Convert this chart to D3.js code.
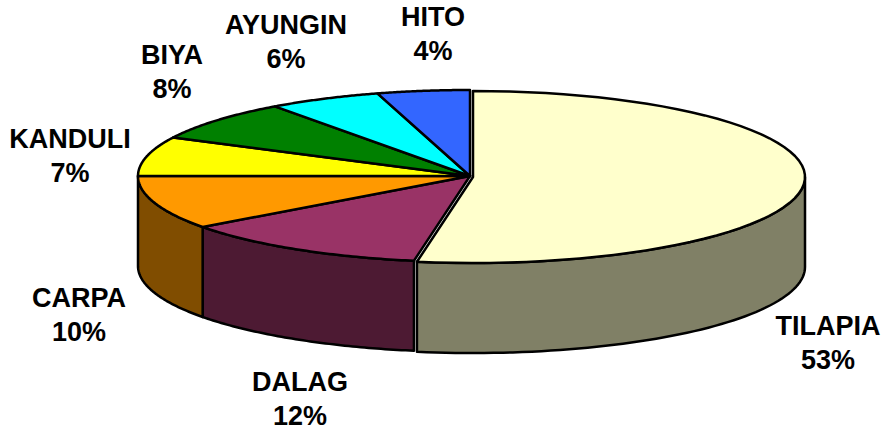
<!DOCTYPE html>
<html>
<head>
<meta charset="utf-8">
<script src="https://cdn.jsdelivr.net/npm/d3@7"></script>
<style>
  html, body { margin: 0; padding: 0; background: #fff; }
  text { font-family: "Liberation Sans", Arial, sans-serif; font-weight: bold; font-size: 27px; fill: #000; }
</style>
</head>
<body>
<script>
// Chart data
const categories = ['TILAPIA', 'DALAG', 'CARPA', 'KANDULI', 'BIYA', 'AYUNGIN', 'HITO'];
const shares = [52.7, 12.2, 10.1, 7.4, 7.6, 5.5, 4.5];
const percentLabels = ['53%', '12%', '10%', '7%', '8%', '6%', '4%'];
const topColors = ['#FFFFCC', '#993366', '#FF9900', '#FFFF00', '#008000', '#00FFFF', '#3366FF'];
const sideColors = ['#808066', '#4D1A33', '#804D00'];

const width = 885, height = 431;
const cx = 470, cy = 176, rx = 332, ry = 86, depth = 90;

// Label centres, one per category
const labelX = [828, 300, 79, 70, 172, 286, 433];
const labelY = [335, 391, 307, 148, 64, 34, 26];
const lineGap = 34;

const svg = d3.select('body').append('svg')
  .attr('width', width)
  .attr('height', height);

const pie = d3.pie().sort(null).value(d => d);
const arcs = pie(shares);

// Flatten the pie: x and y of an angle measured clockwise from the top
const px = a => Math.sin(a) * rx;
const py = a => -Math.cos(a) * ry;

function rimPoints(a0, a1) {
  return d3.range(0, 61).map(i => a0 + (a1 - a0) * i / 60).map(a => [px(a), py(a)]);
}

function drawSlice(parent, d, i) {
  // Side wall, only the lower half of the rim is visible
  const a0 = Math.max(d.startAngle, Math.PI / 2);
  const a1 = Math.min(d.endAngle, Math.PI * 1.5);
  if (a1 > a0 && sideColors[i]) {
    const rim = rimPoints(a0, a1);
    const lower = rim.slice().reverse().map(p => [p[0], p[1] + depth]);
    parent.append('path')
      .attr('d', d3.line()(rim.concat(lower)) + 'Z')
      .attr('fill', sideColors[i])
      .attr('stroke', '#000')
      .attr('stroke-width', 2.5)
      .attr('stroke-linejoin', 'round');
  }
  // Top face
  parent.append('path')
    .attr('d', d3.line()([[0, 0]].concat(rimPoints(d.startAngle, d.endAngle))) + 'Z')
    .attr('fill', topColors[i])
    .attr('stroke', '#000')
    .attr('stroke-width', 2.5)
    .attr('stroke-linejoin', 'round');
}

const chart = svg.append('g').attr('transform', `translate(${cx},${cy})`);

// TILAPIA is pulled out a little from the rest
arcs.forEach((d, i) => {
  const g = chart.append('g');
  if (i === 0) g.attr('transform', 'translate(3,1)');
  drawSlice(g, d, i);
});

// Labels
categories.forEach((name, i) => {
  const t = svg.append('text').attr('text-anchor', 'middle');
  t.append('tspan').attr('x', labelX[i]).attr('y', labelY[i]).text(name);
  t.append('tspan').attr('x', labelX[i]).attr('y', labelY[i] + lineGap).text(percentLabels[i]);
});
</script>
</body>
</html>
